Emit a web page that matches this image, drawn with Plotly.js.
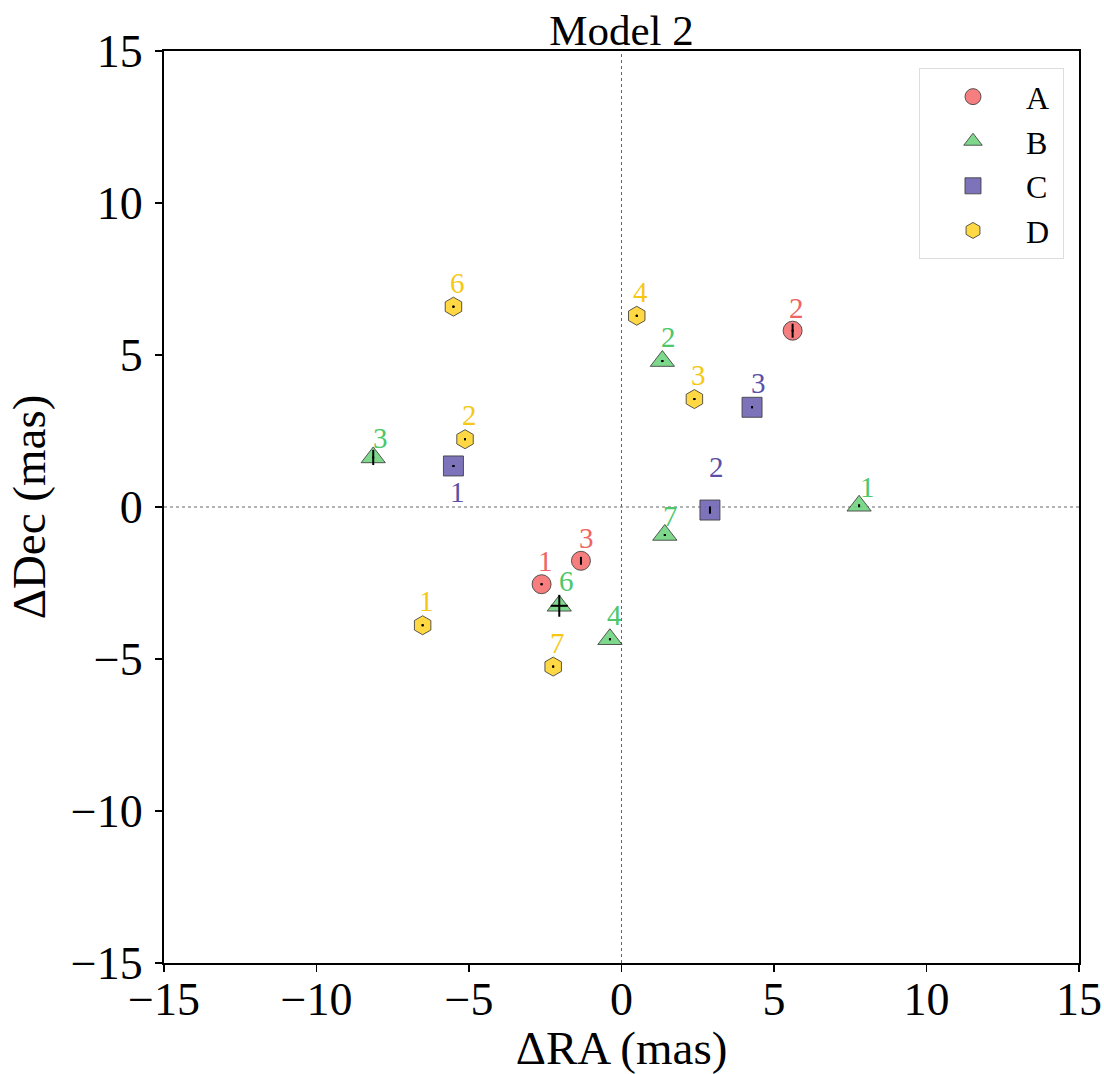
<!DOCTYPE html>
<html>
<head>
<meta charset="utf-8">
<script src="https://cdn.plot.ly/plotly-3.0.1.min.js"></script>
<style>html,body{margin:0;padding:0;background:#fff;}#chart{width:1104px;height:1074px;}</style>
</head>
<body>
<div id="chart"></div>
<script>
// ---- data (mas) ----
const seriesNames = ["A", "B", "C", "D"];
const A_x = [-2.62, 5.61, -1.33];
const A_y = [-2.54, 5.80, -1.77];
const A_ex = [0.03, 0.03, 0.03];
const A_ey = [0.03, 0.23, 0.13];
const A_lab = ["1", "2", "3"];

const B_x = [7.79, 1.34, -8.14, -0.38, -2.04, 1.42];
const B_y = [0.04, 4.80, 1.63, -4.35, -3.25, -0.92];
const B_ex = [0.03, 0.03, 0.03, 0.03, 0.28, 0.03];
const B_ey = [0.05, 0.03, 0.25, 0.03, 0.36, 0.03];
const B_lab = ["1", "2", "3", "4", "6", "7"];

const C_x = [-5.51, 2.90, 4.28];
const C_y = [1.35, -0.10, 3.28];
const C_ex = [0.03, 0.03, 0.03];
const C_ey = [0.03, 0.12, 0.03];
const C_lab = ["1", "2", "3"];

const D_x = [-6.52, -5.13, 2.39, 0.50, -5.51, -2.24];
const D_y = [-3.89, 2.23, 3.55, 6.29, 6.59, -5.25];
const D_ex = [0.03, 0.03, 0.03, 0.03, 0.03, 0.03];
const D_ey = [0.03, 0.03, 0.03, 0.03, 0.03, 0.03];
const D_lab = ["1", "2", "3", "4", "6", "7"];

const xTicks = [-15, -10, -5, 0, 5, 10, 15];
const yTicks = [-15, -10, -5, 0, 5, 10, 15];

// ---- styles ----
const FONT = "Liberation Serif, Times New Roman, serif";
const styles = {
  A: {symbol: "circle", fill: "rgba(245,112,112,0.9)", text: "#f06464", size: 19},
  B: {symbol: "triangle-up", fill: "rgba(112,212,128,0.9)", text: "#4cc86a", size: 21},
  C: {symbol: "square", fill: "rgba(118,108,182,0.95)", text: "#5a50a8", size: 20},
  D: {symbol: "hexagon", fill: "rgba(255,214,58,0.95)", text: "#f5c816", size: 19}
};
// label offsets in pixels [xshift, yshift]
const labelShift = {
  A: [[4, 23], [4, 23], [6, 23]],
  B: [[8, 19], [6, 24], [7, 19], [5, 24], [7, 25], [6, 19]],
  C: [[4, -26], [7, 43], [6, 24]],
  D: [[4, 24], [4, 24], [4, 24], [4, 24], [4, 24], [4, 24]]
};

const sets = {
  A: [A_x, A_y, A_ex, A_ey, A_lab],
  B: [B_x, B_y, B_ex, B_ey, B_lab],
  C: [C_x, C_y, C_ex, C_ey, C_lab],
  D: [D_x, D_y, D_ex, D_ey, D_lab]
};

const traces = [];
const annotations = [];
seriesNames.forEach(name => {
  const [xs, ys, exs, eys, labs] = sets[name];
  const st = styles[name];
  traces.push({
    type: "scatter", mode: "markers", name: name + "\u00a0", x: xs, y: ys,
    marker: {symbol: st.symbol, size: st.size, color: st.fill,
             line: {color: "rgba(60,60,60,0.85)", width: 1}},
    showlegend: true, hoverinfo: "skip"
  });
  traces.push({
    type: "scatter", mode: "markers", x: xs, y: ys, showlegend: false,
    marker: {size: 2, color: "black"},
    error_x: {type: "data", array: exs, visible: true, color: "black", thickness: 2, width: 0},
    error_y: {type: "data", array: eys, visible: true, color: "black", thickness: 2, width: 0},
    hoverinfo: "skip"
  });
  xs.forEach((xv, i) => {
    annotations.push({
      x: xv, y: ys[i], xref: "x", yref: "y", text: labs[i], showarrow: false,
      xshift: labelShift[name][i][0], yshift: labelShift[name][i][1],
      font: {family: FONT, size: 29, color: st.text}
    });
  });
});

const layout = {
  width: 1104, height: 1074,
  margin: {l: 164, r: 25, t: 51, b: 111},
  paper_bgcolor: "white", plot_bgcolor: "white",
  font: {family: FONT, color: "black"},
  title: {text: "Model 2", font: {family: FONT, size: 43, color: "black"},
          x: 0.5, xref: "paper", y: 0.972, yref: "container", yanchor: "middle"},
  xaxis: {range: [-15, 15], tickvals: xTicks, ticktext: xTicks.map(v => v < 0 ? "\u2212" + (-v) : "" + v),
          ticks: "outside", ticklen: 7, tickwidth: 1.5, tickcolor: "black",
          showline: true, linecolor: "black", linewidth: 2, mirror: true,
          showgrid: false, zeroline: false, ticklabelstandoff: -12,
          tickfont: {family: FONT, size: 46},
          title: {text: "\u0394RA (mas)", font: {family: FONT, size: 47}, standoff: 2}},
  yaxis: {range: [-15, 15], tickvals: yTicks, ticktext: yTicks.map(v => v < 0 ? "\u2212" + (-v) : "" + v),
          ticks: "outside", ticklen: 7, tickwidth: 1.5, tickcolor: "black",
          showline: true, linecolor: "black", linewidth: 2, mirror: true,
          showgrid: false, zeroline: false, ticklabelstandoff: 3,
          tickfont: {family: FONT, size: 46},
          title: {text: "\u0394Dec (mas)", font: {family: FONT, size: 47}, standoff: 10}},
  shapes: [
    {type: "line", xref: "x", yref: "paper", x0: 0, x1: 0, y0: 0, y1: 1,
     line: {color: "#666", width: 1, dash: "dot"}, layer: "below"},
    {type: "line", xref: "paper", yref: "y", x0: 0, x1: 1, y0: 0, y1: 0,
     line: {color: "#666", width: 1, dash: "dot"}, layer: "below"}
  ],
  annotations: annotations,
  legend: {x: 0.9836, y: 0.981, xanchor: "right", yanchor: "top",
           bgcolor: "white", bordercolor: "#dddddd", borderwidth: 1,
           font: {family: FONT, size: 32}, itemsizing: "trace", itemwidth: 96,
           tracegroupgap: 0}
};

Plotly.newPlot("chart", traces, layout, {staticPlot: true, displayModeBar: false});
</script>
</body>
</html>
